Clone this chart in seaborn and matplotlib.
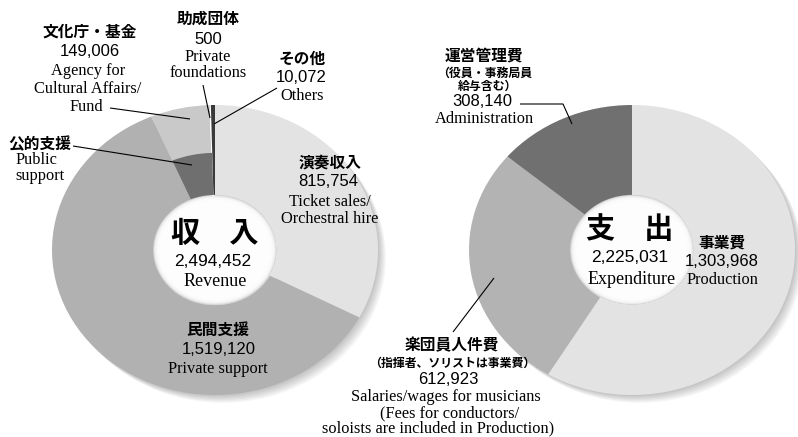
import matplotlib
matplotlib.use("Agg")
import matplotlib.pyplot as plt
import seaborn as sns

# revenue (収入) - clockwise from 12 o'clock
rev_labels = ["演奏収入", "民間支援", "文化庁・基金", "助成団体", "その他"]
rev_values = [815754, 1519120, 149006, 500, 10072]
rev_colors = ["#e3e3e3", "#b1b1b1", "#c9c9c9", "#ffffff", "#3a3a3a"]
rev_total = 2494452
# inner highlight ring for 公的支援 (sits under the 文化庁・基金 slice)
pub_colors = ["none", "none", "#6f6f6f", "none", "none"]

# expenditure (支出)
exp_labels = ["事業費", "楽団員人件費", "運営管理費"]
exp_values = [1303968, 612923, 308140]
exp_colors = ["#e3e3e3", "#b3b3b3", "#707070"]
exp_total = 2225031

sns.set_theme(style="white")
plt.rcParams["font.family"] = ["Noto Sans CJK JP", "DejaVu Sans"]

W, H = 798, 437
fig = plt.figure(figsize=(W / 100, H / 100), dpi=100)
fig.patch.set_facecolor("white")

L = 1.12  # axes limit, leaves room for the shadow
HOLE = 0.38


def donut_axes(cx, cy, rx, ry):
    ax = fig.add_axes([(cx - rx * L) / W, 1 - (cy + ry * L) / H, 2 * rx * L / W, 2 * ry * L / H])
    ax.patch.set_visible(False)
    return ax


def draw_donut(ax, values, colors):
    # soft drop shadow, a few faint offset rings
    for k in range(1, 7):
        ax.pie([1], radius=1.0, center=(0.008 * k, -0.009 * k), colors=["#000000"],
               wedgeprops=dict(width=1 - HOLE, alpha=0.04, linewidth=0))
    # shaded hole: thin grey rim fading to white
    ax.pie([1], radius=HOLE, colors=["#d2d2d2"], wedgeprops=dict(linewidth=0))
    for k in range(1, 9):
        ax.pie([1], radius=HOLE - 0.005 * k, colors=["#ffffff"],
               wedgeprops=dict(alpha=0.4, linewidth=0))
    wedges, _ = ax.pie(values, colors=colors, startangle=90, counterclock=False,
                       wedgeprops=dict(width=1 - HOLE, linewidth=0))
    return wedges


axL = donut_axes(215, 250, 163, 145)
wl = draw_donut(axL, rev_values, rev_colors)
wl[3].set_edgecolor("white")
wl[3].set_linewidth(1.3)
axL.pie(rev_values, colors=pub_colors, startangle=90, counterclock=False, radius=0.67,
        wedgeprops=dict(width=0.67 - HOLE, linewidth=0))

axR = donut_axes(632, 250, 163, 145)
draw_donut(axR, exp_values, exp_colors)

for ax in (axL, axR):
    ax.set_aspect("auto")
    ax.set_xlim(-L, L)
    ax.set_ylim(-L, L)
    ax.axis("off")

# text layer in pixel coordinates
t = fig.add_axes([0, 0, 1, 1])
t.set_xlim(0, W)
t.set_ylim(H, 0)
t.axis("off")

JP = dict(family=["Noto Sans CJK JP", "DejaVu Sans"], fontweight="bold", fontsize=11.3)
JPS = dict(family=["Noto Sans CJK JP", "DejaVu Sans"], fontweight="bold", fontsize=8.6)
NUM = dict(family=["Liberation Sans", "DejaVu Sans"], fontsize=12)
EN = dict(family=["Liberation Serif", "DejaVu Serif"], fontsize=11.8)
BIG = dict(family=["Noto Sans CJK JP", "DejaVu Sans"], fontweight="bold", fontsize=21)


def fmt(v):
    return f"{v:,}"


def txt(x, y, s, style):
    t.text(x, y, s, ha="center", va="center", color="black", **style)


def leader(xs, ys):
    t.plot(xs, ys, color="black", lw=0.8, solid_capstyle="butt")


# ---- revenue labels ----
txt(90, 32, rev_labels[2], JP)
txt(90, 51, fmt(rev_values[2]), NUM)
txt(88, 71, "Agency for", EN)
txt(88, 89, "Cultural Affairs/", EN)
txt(86, 107, "Fund", EN)
leader([110, 190], [108, 119])

txt(208, 19, rev_labels[3], JP)
txt(208, 39, fmt(rev_values[3]), NUM)
txt(208, 57, "Private", EN)
txt(208, 73, "foundations", EN)
leader([203, 210], [85, 118])

txt(302, 59, rev_labels[4], JP)
txt(301, 78, fmt(rev_values[4]), NUM)
txt(302, 96, "Others", EN)
leader([277, 214], [88, 124])

txt(40, 144, "公的支援", JP)
txt(36, 160, "Public", EN)
txt(40, 176, "support", EN)
leader([73, 192], [146, 165])

txt(330, 163, rev_labels[0], JP)
txt(328, 182, fmt(rev_values[0]), NUM)
txt(330, 202, "Ticket sales/", EN)
txt(330, 219, "Orchestral hire", EN)

txt(218, 330, rev_labels[1], JP)
txt(219, 350, fmt(rev_values[1]), NUM)
txt(218, 369, "Private support", EN)

txt(215, 233, "収\u3000入", BIG)
txt(213, 262, fmt(rev_total), dict(NUM, fontsize=12.5))
txt(215, 282, "Revenue", dict(EN, fontsize=13))

# ---- expenditure labels ----
txt(484, 56, exp_labels[2], JP)
txt(485, 73, "（役員・事務局員", JPS)
txt(488, 86, "給与含む）", JPS)
txt(482, 102, fmt(exp_values[2]), NUM)
txt(484, 119, "Administration", EN)
leader([520, 563, 572], [104, 104, 124])

txt(630, 229, "支\u3000出", BIG)
txt(630, 258, fmt(exp_total), dict(NUM, fontsize=12.5))
txt(632, 279, "Expenditure", dict(EN, fontsize=13))

txt(722, 243, exp_labels[0], JP)
txt(722, 262, fmt(exp_values[0]), NUM)
txt(722, 280, "Production", EN)

txt(452, 345, exp_labels[1], JP)
txt(452, 363, "（指揮者、ソリストは事業費）", JPS)
txt(448, 380, fmt(exp_values[1]), NUM)
txt(446, 397, "Salaries/wages for musicians", EN)
txt(450, 413, "(Fees for conductors/", EN)
txt(438, 428, "soloists are included in Production)", EN)
leader([453, 494], [332, 278])

fig.savefig("out.png", dpi=100, facecolor="white")
